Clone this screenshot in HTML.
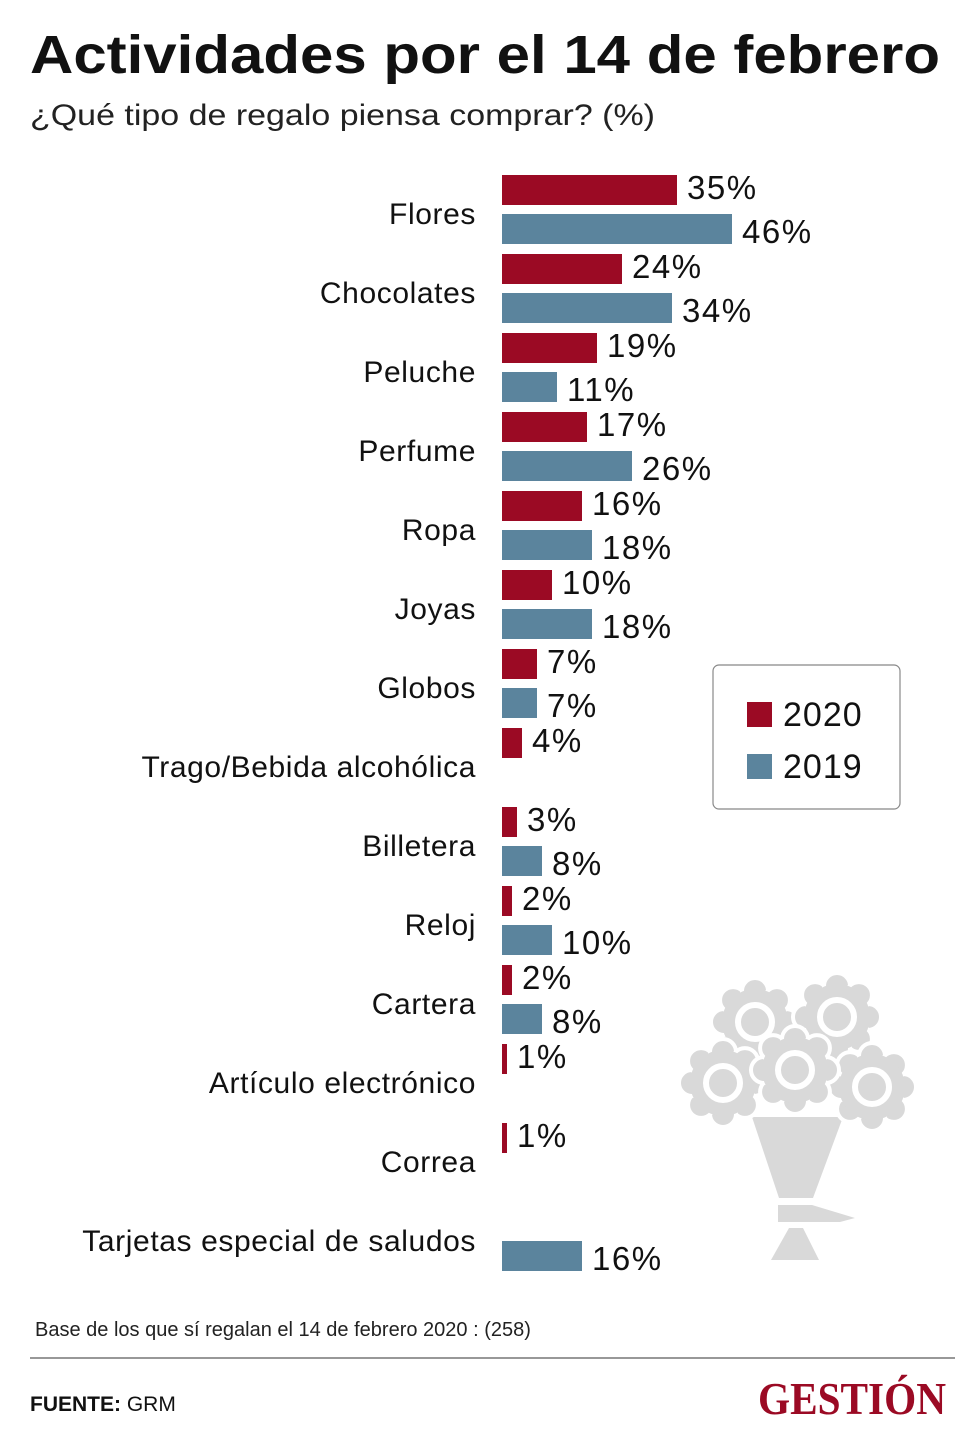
<!DOCTYPE html>
<html><head><meta charset="utf-8"><style>
body{margin:0;background:#fff;}
svg{display:block;font-family:"Liberation Sans",sans-serif;}
</style></head><body>
<svg id="chart" width="980" height="1434" viewBox="0 0 980 1434">
<text x="30" y="73" font-size="54" font-weight="bold" fill="#111" textLength="910" lengthAdjust="spacingAndGlyphs">Actividades por el 14 de febrero</text>
<text x="30" y="125" font-size="30" fill="#222" textLength="625" lengthAdjust="spacingAndGlyphs">¿Qué tipo de regalo piensa comprar?  (%)</text>
<g id="bars"></g>
<g>
<rect x="713" y="665" width="187" height="144" rx="6" fill="#fff" stroke="#888" stroke-width="1.2"/>
<rect x="747" y="702" width="25" height="25" fill="#9b0a24"/>
<text x="783" y="726" font-size="34" fill="#111" letter-spacing="1">2020</text>
<rect x="747" y="754" width="25" height="25" fill="#5b849d"/>
<text x="783" y="778" font-size="34" fill="#111" letter-spacing="1">2019</text>
</g>
<g fill="#d9d9d9">
<polygon points="752,1117 843,1117 813,1198 779,1198"/>
<polygon points="778,1205 812,1205 855,1218 840,1222 812,1222 778,1222"/>
<polygon points="789,1228 803,1228 819,1260 771,1260"/>
<g id="flowers"></g>
</g>
<text x="35" y="1336" font-size="20" fill="#222">Base de los que sí regalan el 14 de febrero 2020 : (258)</text>
<line x1="30" y1="1358" x2="955" y2="1358" stroke="#777" stroke-width="1.5"/>
<text x="30" y="1411" font-size="21" fill="#111"><tspan font-weight="bold">FUENTE:</tspan> GRM</text>
<text x="946" y="1414" text-anchor="end" font-family="Liberation Serif, serif" font-weight="bold" font-size="46" fill="#9b0a24" textLength="188" lengthAdjust="spacingAndGlyphs">GESTIÓN</text>
</svg>
<script>
const categories=["Flores","Chocolates","Peluche","Perfume","Ropa","Joyas","Globos","Trago/Bebida alcohólica","Billetera","Reloj","Cartera","Artículo electrónico","Correa","Tarjetas especial de saludos"];
const values2020=[35,24,19,17,16,10,7,4,3,2,2,1,1,null];
const values2019=[46,34,11,26,18,18,7,null,8,10,8,null,null,16];
const NS="http://www.w3.org/2000/svg";
const x0=502,pxPer=5,groupTop=175,groupStep=79,barH=30,gap=39;
const xs=v=>v*pxPer;
const g=document.getElementById('bars');
function mk(t,a){const e=document.createElementNS(NS,t);for(const k in a)e.setAttribute(k,a[k]);return e;}
categories.forEach((c,i)=>{
  const y=groupTop+i*groupStep;
  const lab=mk('text',{x:476,y:y+49,'text-anchor':'end','font-size':30,'letter-spacing':0.6,fill:'#111'});
  
  
  lab.textContent=c;g.appendChild(lab);
  [[values2020[i],'#9b0a24',y,'2020'],[values2019[i],'#5b849d',y+gap,'2019']].forEach(([v,col,by,yr])=>{
    if(v==null)return;
    const r=mk('rect',{x:x0,y:by,width:xs(v),height:barH,fill:col});
    
    
    g.appendChild(r);
    const t=mk('text',{x:x0+xs(v)+10,y:by+(yr==='2020'?24:29),'font-size':33,'letter-spacing':1.5,fill:'#111'});
    
    
    t.textContent=v+'%';g.appendChild(t);
  });
});
const fl=document.getElementById('flowers');
[[755,1022],[837,1017],[723,1083],[872,1087],[795,1070]].forEach(([cx,cy])=>{
  const f=mk('g',{});
  
  
  for(let k=0;k<8;k++){const a=k*Math.PI/4;f.appendChild(mk('circle',{cx:cx+31*Math.cos(a),cy:cy+31*Math.sin(a),r:13,fill:'#d9d9d9',stroke:'#fff','stroke-width':4}));}
  f.appendChild(mk('circle',{cx,cy,r:33,fill:'#d9d9d9'}));
  f.appendChild(mk('circle',{cx,cy,r:17,fill:'#d9d9d9',stroke:'#fff','stroke-width':6}));
  fl.appendChild(f);
});
</script>
</body></html>
